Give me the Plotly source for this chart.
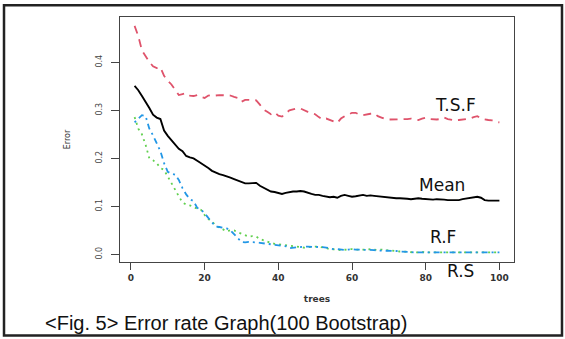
import plotly.graph_objects as go

trees = list(range(1, 101))

mean_err = [0.351, 0.342, 0.330, 0.318, 0.305, 0.291, 0.285, 0.282, 0.258, 0.247,
            0.238, 0.228, 0.220, 0.215, 0.205, 0.202, 0.200, 0.195, 0.190, 0.186,
            0.180, 0.174, 0.170, 0.167, 0.165, 0.163, 0.160, 0.157, 0.154, 0.152,
            0.148, 0.148, 0.149, 0.149, 0.143, 0.139, 0.135, 0.131, 0.130, 0.128,
            0.126, 0.128, 0.130, 0.131, 0.131, 0.132, 0.131, 0.128, 0.126, 0.124,
            0.124, 0.122, 0.121, 0.119, 0.120, 0.118, 0.122, 0.124, 0.122, 0.120,
            0.121, 0.123, 0.124, 0.122, 0.123, 0.122, 0.121, 0.120, 0.119, 0.119,
            0.118, 0.117, 0.117, 0.117, 0.116, 0.115, 0.116, 0.117, 0.116, 0.115,
            0.115, 0.114, 0.115, 0.115, 0.114, 0.113, 0.113, 0.114, 0.113, 0.115,
            0.116, 0.117, 0.118, 0.120, 0.118, 0.113, 0.112, 0.112, 0.112, 0.112]

tsf_err = [0.476, 0.455, 0.425, 0.412, 0.401, 0.392, 0.388, 0.390, 0.372, 0.362,
           0.354, 0.343, 0.332, 0.334, 0.336, 0.331, 0.330, 0.332, 0.328, 0.326,
           0.331, 0.332, 0.331, 0.332, 0.332, 0.331, 0.331, 0.328, 0.326, 0.318,
           0.322, 0.322, 0.321, 0.321, 0.312, 0.302, 0.297, 0.292, 0.296, 0.289,
           0.287, 0.294, 0.300, 0.302, 0.304, 0.304, 0.300, 0.297, 0.294, 0.292,
           0.286, 0.281, 0.283, 0.280, 0.277, 0.274, 0.283, 0.288, 0.291, 0.295,
           0.295, 0.291, 0.290, 0.292, 0.293, 0.294, 0.288, 0.285, 0.282, 0.281,
           0.281, 0.281, 0.281, 0.281, 0.282, 0.283, 0.281, 0.280, 0.283, 0.285,
           0.282, 0.281, 0.281, 0.282, 0.285, 0.282, 0.280, 0.279, 0.280, 0.281,
           0.281, 0.283, 0.286, 0.288, 0.283, 0.281, 0.280, 0.279, 0.276, 0.275]

rf_err = [0.275, 0.283, 0.290, 0.288, 0.262, 0.248, 0.232, 0.215, 0.190, 0.172,
          0.168, 0.166, 0.155, 0.138, 0.125, 0.115, 0.111, 0.097, 0.093, 0.086,
          0.076, 0.066, 0.058, 0.057, 0.056, 0.054, 0.050, 0.043, 0.034, 0.026,
          0.025, 0.026, 0.026, 0.025, 0.024, 0.023, 0.022, 0.021, 0.021, 0.020,
          0.019, 0.017, 0.013, 0.014, 0.015, 0.015, 0.016, 0.016, 0.016, 0.015,
          0.015, 0.015, 0.014, 0.012, 0.011, 0.011, 0.010, 0.009, 0.010, 0.011,
          0.010, 0.010, 0.010, 0.009, 0.009, 0.009, 0.008, 0.008, 0.008, 0.008,
          0.007, 0.007, 0.006, 0.006, 0.005, 0.005, 0.004, 0.004, 0.004, 0.004,
          0.004, 0.004, 0.003, 0.004, 0.004, 0.004, 0.004, 0.003, 0.004, 0.004,
          0.004, 0.004, 0.004, 0.004, 0.004, 0.003, 0.004, 0.004, 0.004, 0.004]

rs_err = [0.286, 0.262, 0.250, 0.228, 0.200, 0.196, 0.190, 0.180, 0.176, 0.162,
          0.148, 0.132, 0.121, 0.108, 0.104, 0.102, 0.098, 0.095, 0.093, 0.082,
          0.074, 0.068, 0.062, 0.055, 0.052, 0.048, 0.050, 0.050, 0.046, 0.043,
          0.039, 0.037, 0.038, 0.037, 0.032, 0.029, 0.026, 0.024, 0.022, 0.021,
          0.020, 0.018, 0.017, 0.016, 0.015, 0.014, 0.014, 0.015, 0.016, 0.016,
          0.016, 0.015, 0.013, 0.011, 0.011, 0.010, 0.009, 0.010, 0.011, 0.011,
          0.010, 0.010, 0.009, 0.010, 0.011, 0.010, 0.009, 0.010, 0.009, 0.008,
          0.007, 0.007, 0.006, 0.006, 0.005, 0.004, 0.004, 0.004, 0.005, 0.004,
          0.004, 0.004, 0.004, 0.004, 0.004, 0.005, 0.004, 0.004, 0.004, 0.004,
          0.004, 0.005, 0.004, 0.004, 0.004, 0.004, 0.004, 0.004, 0.004, 0.004]

x_ticks = [0, 20, 40, 60, 80, 100]
y_ticks = [0.0, 0.1, 0.2, 0.3, 0.4]
y_ticktext = ["0.0", "0.1", "0.2", "0.3", "0.4"]

# in-plot series labels (data coordinates)
labels = ["T.S.F", "Mean", "R.F"]
label_x = [88.2, 84.3, 84.6]
label_y = [0.311, 0.1445, 0.037]
# label drawn below the plot frame (x in data units, y in paper units)
below_label = "R.S"
below_label_x = 89.5
below_label_y = -0.038

caption = "&lt;Fig. 5&gt; Error rate Graph(100 Bootstrap)"

fig = go.Figure()
fig.add_trace(go.Scatter(x=trees, y=mean_err, mode="lines", name="Mean",
                         line=dict(color="#000000", width=1.9)))
fig.add_trace(go.Scatter(x=trees, y=tsf_err, mode="lines", name="T.S.F",
                         line=dict(color="#DF536B", width=1.8, dash="8px,6px")))
fig.add_trace(go.Scatter(x=trees, y=rs_err, mode="lines", name="R.S",
                         line=dict(color="#61D04F", width=1.8, dash="2px,4px")))
fig.add_trace(go.Scatter(x=trees, y=rf_err, mode="lines", name="R.F",
                         line=dict(color="#2297E6", width=1.8, dash="2px,4px,6px,4px")))

label_font = dict(family="DejaVu Sans", size=17, color="#111111")
for t, lx, ly in zip(labels, label_x, label_y):
    fig.add_annotation(x=lx, y=ly, xref="x", yref="y", text=t, showarrow=False,
                       xanchor="center", yanchor="middle", font=label_font)
fig.add_annotation(x=below_label_x, y=below_label_y, xref="x", yref="paper",
                   text=below_label, showarrow=False, xanchor="center",
                   yanchor="middle", font=label_font)

# caption below the chart (paper coords relative to plot area)
fig.add_annotation(x=-0.195, y=-0.247, xref="paper", yref="paper", text=caption,
                   showarrow=False, xanchor="left", yanchor="middle",
                   font=dict(family="Liberation Sans", size=20, color="#111111"))

# outer frame
fig.add_shape(type="rect", xref="paper", yref="paper",
              x0=-0.2944, x1=1.1218, y0=-0.3001, y1=1.0476,
              line=dict(color="#222222", width=2.5), fillcolor="rgba(0,0,0,0)", layer="above")

fig.update_layout(
    width=565, height=339,
    margin=dict(l=120, r=51, t=17, b=77),
    paper_bgcolor="white", plot_bgcolor="white",
    showlegend=False,
    xaxis=dict(range=[-2.96, 103.96], tickvals=x_ticks, ticks="outside", ticklen=7,
               tickcolor="#444", showline=True, mirror=True, linecolor="#444", linewidth=1.2,
               showgrid=False, zeroline=False,
               tickfont=dict(family="DejaVu Sans", size=9, color="#333", weight="bold"),
               title=dict(text="trees", standoff=13,
                          font=dict(family="DejaVu Sans", size=9, color="#333", weight="bold"))),
    yaxis=dict(range=[-0.0159, 0.4946], tickvals=y_ticks, ticktext=y_ticktext,
               ticks="outside", ticklen=8, tickangle=-90, ticklabelstandoff=6,
               tickcolor="#444", showline=True, mirror=True, linecolor="#444", linewidth=1.2,
               showgrid=False, zeroline=False,
               tickfont=dict(family="DejaVu Sans", size=8, color="#444"),
               title=dict(text="Error", standoff=22,
                          font=dict(family="DejaVu Sans", size=8, color="#333"))),
)

fig.write_html("out.html", config={"displayModeBar": False},
               post_script="document.body.style.margin='0px';")
